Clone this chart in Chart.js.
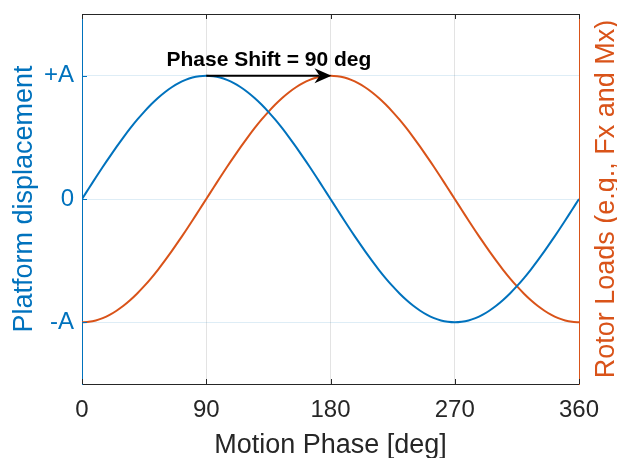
<!DOCTYPE html>
<html>
<head>
<meta charset="utf-8">
<script src="https://cdn.jsdelivr.net/npm/chart.js@4/dist/chart.umd.min.js"></script>
<style>
  html, body { margin: 0; padding: 0; background: #ffffff; }
  #wrap { width: 617px; height: 458px; }
</style>
</head>
<body>
<div id="wrap"><canvas id="c" width="617" height="458"></canvas></div>
<script>
// ---- data (every 5 deg) ----
const phaseDeg = [0,5,10,15,20,25,30,35,40,45,50,55,60,65,70,75,80,85,90,95,100,105,110,115,120,125,130,135,140,145,150,155,160,165,170,175,180,
                  185,190,195,200,205,210,215,220,225,230,235,240,245,250,255,260,265,270,275,280,285,290,295,300,305,310,315,320,325,330,335,340,345,350,355,360];
const platformDisp = [0,0.087,0.174,0.259,0.342,0.423,0.5,0.574,0.643,0.707,0.766,0.819,0.866,0.906,0.94,0.966,0.985,0.996,1,
                      0.996,0.985,0.966,0.94,0.906,0.866,0.819,0.766,0.707,0.643,0.574,0.5,0.423,0.342,0.259,0.174,0.087,0,
                      -0.087,-0.174,-0.259,-0.342,-0.423,-0.5,-0.574,-0.643,-0.707,-0.766,-0.819,-0.866,-0.906,-0.94,-0.966,-0.985,-0.996,-1,
                      -0.996,-0.985,-0.966,-0.94,-0.906,-0.866,-0.819,-0.766,-0.707,-0.643,-0.574,-0.5,-0.423,-0.342,-0.259,-0.174,-0.087,0];
const rotorLoads = [-1,-0.996,-0.985,-0.966,-0.94,-0.906,-0.866,-0.819,-0.766,-0.707,-0.643,-0.574,-0.5,-0.423,-0.342,-0.259,-0.174,-0.087,0,
                    0.087,0.174,0.259,0.342,0.423,0.5,0.574,0.643,0.707,0.766,0.819,0.866,0.906,0.94,0.966,0.985,0.996,1,
                    0.996,0.985,0.966,0.94,0.906,0.866,0.819,0.766,0.707,0.643,0.574,0.5,0.423,0.342,0.259,0.174,0.087,0,
                    -0.087,-0.174,-0.259,-0.342,-0.423,-0.5,-0.574,-0.643,-0.707,-0.766,-0.819,-0.866,-0.906,-0.94,-0.966,-0.985,-0.996,-1];
const xTickValues = [0,90,180,270,360];
const yTickValues = [-1,0,1];
const yTickLabels = ['-A','0','+A'];
const arrowFrom = [90,1];
const arrowTo = [180,1];
const arrowLabel = 'Phase Shift = 90 deg';
const xTitle = 'Motion Phase [deg]';
const yLeftTitle = 'Platform displacement';
const yRightTitle = 'Rotor Loads (e.g., Fx and Mx)';

const BLUE = '#0072BD';
const ORANGE = '#D95319';
const DARK = '#262626';
const FONT = '"Liberation Sans", Arial, Helvetica, sans-serif';

const extras = {
  id: 'extras',
  afterDatasetsDraw(chart) {
    const ctx = chart.ctx;
    const a = chart.chartArea;
    const xs = chart.scales.x, ys = chart.scales.y;
    ctx.save();
    // top box line
    ctx.strokeStyle = DARK;
    ctx.lineWidth = 1;
    ctx.beginPath();
    ctx.moveTo(a.left, Math.round(a.top) + 0.5);
    ctx.lineTo(a.right, Math.round(a.top) + 0.5);
    ctx.stroke();
    // inward x ticks (bottom and top)
    const tl = 5;
    xTickValues.forEach(v => {
      const px = Math.round(xs.getPixelForValue(v)) + 0.5;
      ctx.beginPath();
      ctx.moveTo(px, a.bottom); ctx.lineTo(px, a.bottom - tl);
      ctx.moveTo(px, a.top); ctx.lineTo(px, a.top + tl);
      ctx.stroke();
    });
    // inward left y ticks
    ctx.strokeStyle = BLUE;
    yTickValues.forEach(v => {
      const py = Math.round(ys.getPixelForValue(v)) + 0.5;
      ctx.beginPath();
      ctx.moveTo(a.left, py); ctx.lineTo(a.left + tl, py);
      ctx.stroke();
    });
    // arrow annotation
    const x0 = xs.getPixelForValue(arrowFrom[0]);
    const y0 = ys.getPixelForValue(arrowFrom[1]);
    const x1 = xs.getPixelForValue(arrowTo[0]) + 1;
    const y1 = ys.getPixelForValue(arrowTo[1]);
    const head = 17, hw = 7.5;
    ctx.strokeStyle = '#000';
    ctx.fillStyle = '#000';
    ctx.lineWidth = 2;
    ctx.beginPath();
    ctx.moveTo(x0, y0);
    ctx.lineTo(x1 - 12, y1);
    ctx.stroke();
    ctx.beginPath();
    ctx.moveTo(x1, y1);
    ctx.lineTo(x1 - head, y1 - hw);
    ctx.lineTo(x1 - 12, y1);
    ctx.lineTo(x1 - head, y1 + hw);
    ctx.closePath();
    ctx.fill();
    // label
    ctx.font = 'bold 21px ' + FONT;
    ctx.textAlign = 'center';
    ctx.textBaseline = 'alphabetic';
    ctx.fillText(arrowLabel, (x0 + x1) / 2, y0 - 10);
    ctx.restore();
  },
  afterDraw(chart) {
    const ctx = chart.ctx;
    ctx.save();
    ctx.font = '27px ' + FONT;
    ctx.fillStyle = ORANGE;
    ctx.textAlign = 'center';
    ctx.textBaseline = 'middle';
    const a = chart.chartArea;
    ctx.translate(607, (a.top + a.bottom) / 2);
    ctx.rotate(-Math.PI / 2);
    ctx.fillText(yRightTitle, 0, 0);
    ctx.restore();
  }
};

new Chart(document.getElementById('c'), {
  type: 'line',
  data: {
    datasets: [
      {
        label: 'Platform displacement',
        data: phaseDeg.map((x, i) => ({x, y: platformDisp[i]})),
        borderColor: BLUE, borderWidth: 2, pointRadius: 0,
        tension: 0.2, yAxisID: 'y', fill: false
      },
      {
        label: 'Rotor Loads',
        data: phaseDeg.map((x, i) => ({x, y: rotorLoads[i]})),
        borderColor: ORANGE, borderWidth: 2, pointRadius: 0,
        tension: 0.2, yAxisID: 'y2', fill: false
      }
    ]
  },
  options: {
    responsive: false,
    devicePixelRatio: 1,
    animation: false,
    layout: { padding: { top: 14, left: 0, right: 0, bottom: 0 } },
    plugins: { legend: { display: false }, tooltip: { enabled: false } },
    scales: {
      x: {
        type: 'linear', position: 'bottom', min: 0, max: 360,
        afterBuildTicks: s => { s.ticks = xTickValues.map(v => ({value: v})); },
        afterFit: s => { s.height = 74; s.paddingLeft = 0; s.paddingRight = 0; },
        ticks: { color: DARK, font: { family: FONT, size: 24, lineHeight: 1 }, padding: 14, maxRotation: 0 },
        grid: { color: 'rgba(38,38,38,0.13)', lineWidth: 1, drawTicks: false },
        border: { color: DARK, width: 1 },
        title: { display: true, text: xTitle, color: DARK,
                 font: { family: FONT, size: 27, lineHeight: 1 }, padding: { top: 0, bottom: -1 } }
      },
      y: {
        type: 'linear', position: 'left', min: -1.5, max: 1.5,
        afterBuildTicks: s => { s.ticks = yTickValues.map(v => ({value: v})); },
        afterFit: s => { s.width = 82; s.paddingTop = 0; s.paddingBottom = 0; },
        ticks: { color: BLUE, font: { family: FONT, size: 24, lineHeight: 1 }, padding: 8,
                 callback: (v) => { const i = yTickValues.indexOf(v); return i >= 0 ? yTickLabels[i] : ''; } },
        grid: { color: 'rgba(0,114,189,0.13)', lineWidth: 1, drawTicks: false },
        border: { color: BLUE, width: 1 },
        title: { display: true, text: yLeftTitle, color: BLUE,
                 font: { family: FONT, size: 27, lineHeight: 1 }, padding: { top: 11, bottom: 0 } }
      },
      y2: {
        type: 'linear', position: 'right', min: -1.5, max: 1.5,
        afterFit: s => { s.width = 38; s.paddingTop = 0; s.paddingBottom = 0; },
        ticks: { display: false },
        grid: { drawOnChartArea: false, drawTicks: false },
        border: { color: ORANGE, width: 1 }
      }
    }
  },
  plugins: [extras]
});
</script>
</body>
</html>
